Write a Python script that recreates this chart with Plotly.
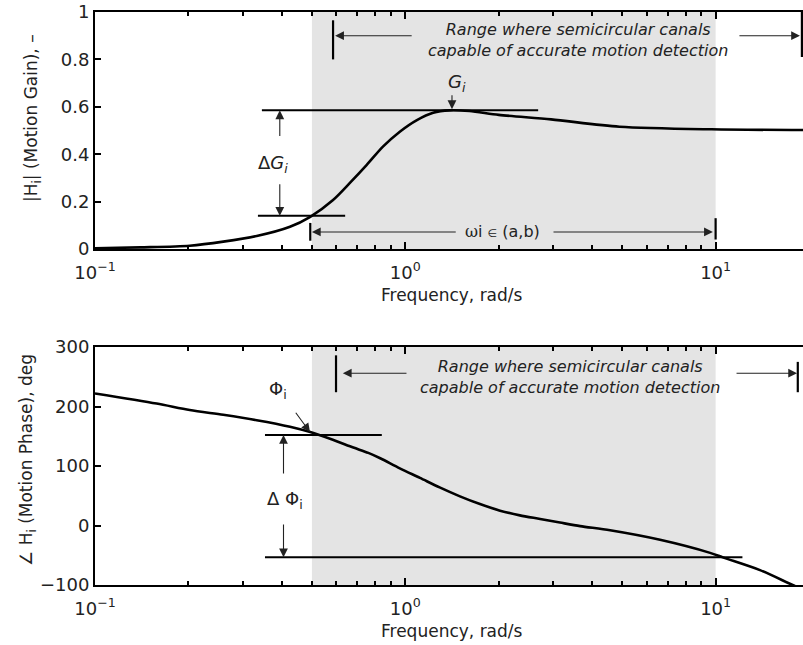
import math
import plotly.graph_objects as go

# ---------------- data ----------------
gain_freq = [0.1, 0.14, 0.202, 0.259, 0.332, 0.425, 0.494, 0.585, 0.664, 0.75, 0.847, 0.96,
             1.09, 1.23, 1.39, 1.61, 2.0, 2.95, 4.9, 9.7, 20.0]
gain_vals = [0.003, 0.007, 0.014, 0.031, 0.055, 0.094, 0.136, 0.207, 0.28, 0.354, 0.432, 0.495,
             0.544, 0.575, 0.585, 0.582, 0.566, 0.547, 0.516, 0.505, 0.502]

phase_freq = [0.1, 0.158, 0.202, 0.259, 0.332, 0.425, 0.494, 0.584, 0.68, 0.76, 0.83, 0.96, 1.115,
              1.29, 1.5, 1.74, 2.02, 2.34, 2.72, 3.15, 3.66, 4.57, 6.62, 9.6, 10.6, 13.9, 17.7, 20.0]
phase_vals = [222, 205, 194, 186, 177, 166, 157, 144, 131, 122, 113, 96, 80,
              64, 49, 36, 25, 17, 11, 5, -1, -8, -24, -46, -54, -75, -100, -112]

x_tick_vals = [0.1, 1, 10]
x_tick_text = ["10<sup>−1</sup>", "10<sup>0</sup>", "10<sup>1</sup>"]
x_minor_vals = [0.2, 0.3, 0.4, 0.5, 0.6, 0.7, 0.8, 0.9, 2, 3, 4, 5, 6, 7, 8, 9]
gain_ticks = [0, 0.2, 0.4, 0.6, 0.8, 1]
gain_tick_text = ["0", "0.2", "0.4", "0.6", "0.8", "1"]
phase_ticks = [-100, 0, 100, 200, 300]
phase_tick_text = ["−100", "0", "100", "200", "300"]

shade_range = [0.5, 10]
range_text = "Range where semicircular canals<br>capable of accurate motion detection"

FONT = "DejaVu Sans"
W, H = 803, 645

fig = go.Figure()
fig.add_trace(go.Scatter(x=gain_freq, y=gain_vals, mode="lines",
                         line=dict(color="black", width=2.6, shape="spline", smoothing=0.8),
                         xaxis="x", yaxis="y", showlegend=False, hoverinfo="skip"))
fig.add_trace(go.Scatter(x=phase_freq, y=phase_vals, mode="lines",
                         line=dict(color="black", width=2.6, shape="spline", smoothing=0.8),
                         xaxis="x2", yaxis="y2", showlegend=False, hoverinfo="skip"))

xdom = [95 / W, 1.0]
xr = [-1, 1.2816]

def xaxis_cfg(anchor):
    return dict(type="log", range=xr, domain=xdom, anchor=anchor, automargin=False,
                tickmode="array", tickvals=x_tick_vals, ticktext=x_tick_text,
                ticks="inside", ticklen=7, tickwidth=1.5, tickcolor="black",
                minor=dict(tickmode="array", tickvals=x_minor_vals, ticks="inside", ticklen=4,
                           tickwidth=1.5, tickcolor="black", showgrid=False),
                showline=True, linecolor="black", linewidth=2, mirror="allticks",
                showgrid=False, zeroline=False,
                tickfont=dict(family=FONT, size=18, color="#222"),
                ticklabelstandoff=6)

def yaxis_cfg(anchor, dom, rng, tv, tt):
    return dict(range=rng, domain=dom, anchor=anchor, automargin=False,
                tickmode="array", tickvals=tv, ticktext=tt,
                ticks="inside", ticklen=6, tickwidth=1.5, tickcolor="black",
                showline=True, linecolor="black", linewidth=2, mirror=False,
                showgrid=False, zeroline=False,
                tickfont=dict(family=FONT, size=18, color="#222"))

fig.update_layout(
    template="none",
    width=W, height=H, margin=dict(l=0, r=0, t=0, b=0, autoexpand=False),
    paper_bgcolor="white", plot_bgcolor="white",
    xaxis=xaxis_cfg("y"),
    yaxis=yaxis_cfg("x", [1 - 249 / H, 1 - 12 / H], [0, 1], gain_ticks, gain_tick_text),
    xaxis2=xaxis_cfg("y2"),
    yaxis2=yaxis_cfg("x2", [1 - 585 / H, 1 - 347 / H], [-100, 300], phase_ticks, phase_tick_text),
)

shapes = []
for xa, ya in (("x", "y"), ("x2", "y2")):
    shapes.append(dict(type="rect", xref=xa, yref=ya + " domain", x0=shade_range[0], x1=shade_range[1],
                       y0=0, y1=1, fillcolor="#e4e4e4", line=dict(width=0), layer="below"))

def hline(xa, ya, x0, x1, y, w=2):
    shapes.append(dict(type="line", xref=xa, yref=ya, x0=x0, x1=x1, y0=y, y1=y,
                       line=dict(color="black", width=w)))

def vline(xa, ya, x, y0, y1, w=2.2):
    shapes.append(dict(type="line", xref=xa, yref=ya, x0=x, x1=x, y0=y0, y1=y1,
                       line=dict(color="black", width=w)))

# top panel lines
hline("x", "y", 0.345, 2.68, 0.585)
hline("x", "y", 0.335, 0.64, 0.14)
vline("x", "y", 0.585, 0.80, 0.965)
vline("x", "y", 18.97, 0.81, 1.0)
vline("x", "y", 0.494, 0.035, 0.11)
vline("x", "y", 10.0, 0.04, 0.13)
# bottom panel lines
hline("x2", "y2", 0.353, 0.84, 152)
hline("x2", "y2", 0.353, 12.2, -53.5)
vline("x2", "y2", 0.598, 224, 286)
vline("x2", "y2", 18.4, 224, 275)
fig.update_layout(shapes=shapes)

ann = []

def arrow(xa, ya, tipx, tipy, tailx, taily):
    ann.append(dict(xref=xa, yref=ya, axref=xa, ayref=ya, x=math.log10(tipx), y=tipy,
                    ax=math.log10(tailx), ay=taily, text="", showarrow=True,
                    arrowhead=2, arrowsize=1.6, arrowwidth=1.1, arrowcolor="#222", standoff=0))

def label(xa, ya, x, y, text, size=17, italic=False):
    ann.append(dict(xref=xa, yref=ya, x=math.log10(x), y=y, text=text, showarrow=False,
                    xanchor="center", yanchor="middle",
                    font=dict(family=FONT, size=size, color="#222",
                              style="italic" if italic else "normal")))

# top
arrow("x", "y", 0.394, 0.585, 0.394, 0.47)
arrow("x", "y", 0.394, 0.14, 0.394, 0.28)
label("x", "y", 0.375, 0.36, "Δ<i>G</i><sub><i>i</i></sub>", 18)
arrow("x", "y", 1.414, 0.59, 1.414, 0.655)
label("x", "y", 1.47, 0.70, "<i>G</i><sub><i>i</i></sub>", 18)
arrow("x", "y", 0.594, 0.90, 1.06, 0.90)
arrow("x", "y", 18.7, 0.90, 11.8, 0.90)
label("x", "y", 3.6, 0.882, range_text, 16, italic=True)
arrow("x", "y", 0.50, 0.072, 1.47, 0.072)
arrow("x", "y", 9.8, 0.072, 2.97, 0.072)
ann.append(dict(xref="x", yref="y", x=math.log10(2.06), y=0.075, xanchor="center", yanchor="middle",
                text="<span style='font-family:DejaVu Serif'>ω</span>i <span style='font-size:11px'>∈</span> (a,b)",
                showarrow=False, font=dict(family=FONT, size=16, color="#222")))

# bottom
label("x2", "y2", 0.39, 228, "Φ<sub>i</sub>", 18)
arrow("x2", "y2", 0.493, 157, 0.44, 192)
arrow("x2", "y2", 0.405, 152, 0.405, 85)
arrow("x2", "y2", 0.405, -53.5, 0.405, 4)
label("x2", "y2", 0.41, 43, "Δ Φ<sub>i</sub>", 18)
arrow("x2", "y2", 0.629, 256, 1.02, 256)
arrow("x2", "y2", 18.3, 256, 11.55, 256)
label("x2", "y2", 3.4, 250, range_text, 16, italic=True)

# axis titles
def paper_text(x_px, y_px, text, angle=0):
    ann.append(dict(xref="paper", yref="paper", x=x_px / W, y=1 - y_px / H, text=text,
                    xanchor="center", yanchor="middle", textangle=angle,
                    showarrow=False, font=dict(family=FONT, size=17, color="#222")))

paper_text(452, 295, "Frequency, rad/s")
paper_text(452, 631, "Frequency, rad/s")
paper_text(33, 118, "|H<sub>i</sub>| (Motion Gain), –", -90)
paper_text(27, 460, "∠ H<sub>i</sub> (Motion Phase), deg", -90)

fig.update_layout(annotations=ann)
fig.write_html("out.html")
